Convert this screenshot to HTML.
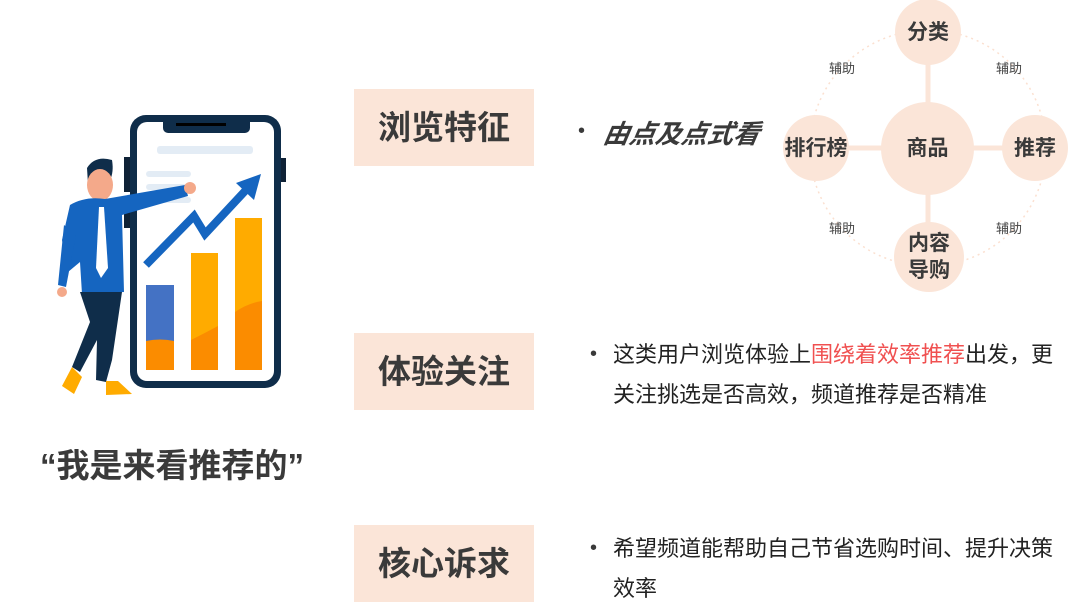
<!DOCTYPE html>
<html><head><meta charset="utf-8"><style>
body{margin:0;width:1080px;height:614px;background:#fff;position:relative;overflow:hidden;font-family:"Liberation Sans","Noto Sans CJK SC",sans-serif;color:#3a3a3a}
.box{position:absolute;left:354px;width:180px;height:77px;background:#fbe5d8;font-size:33px;font-weight:bold;text-align:center;line-height:77px;color:#3a3a3a}
.t{position:absolute;font-size:22px;line-height:40px;color:#222;white-space:nowrap}
.dot{position:absolute;font-size:20px}
.n{position:absolute;border-radius:50%;background:#fbe5d8;display:flex;align-items:center;justify-content:center;font-weight:bold;font-size:21px;color:#3a3a3a;text-align:center;line-height:27px}
.f{position:absolute;font-size:13px;color:#444}
</style></head><body>
<svg style="position:absolute;left:0;top:0" width="1080" height="614">
<rect x="124" y="157" width="8" height="35" fill="#0f2236"/>
<rect x="124" y="198" width="8" height="30" fill="#0f2236"/>
<rect x="278" y="158" width="8" height="24" fill="#0f2236"/>
<rect x="130" y="115" width="151" height="273" rx="16" fill="#0f2d4a"/>
<rect x="137" y="122" width="137" height="259" rx="10" fill="#fff"/>
<rect x="163" y="115" width="87" height="18" rx="5" fill="#0f2d4a"/>
<rect x="176" y="123" width="50" height="3" fill="#000"/>
<rect x="157" y="146" width="96" height="8" rx="3" fill="#e3ecf5"/>
<rect x="146" y="171" width="45" height="6" rx="3" fill="#e3ecf5"/>
<rect x="146" y="184" width="45" height="6" rx="3" fill="#e3ecf5"/>
<rect x="146" y="197" width="45" height="6" rx="3" fill="#e3ecf5"/>
<rect x="146" y="285" width="28" height="85" fill="#4472c4"/>
<path d="M146 341 Q160 338 174 341 V370 H146Z" fill="#fb8c00"/>
<rect x="191" y="253" width="27" height="117" fill="#ffab00"/>
<path d="M191 340 Q205 333 218 326 V370 H191Z" fill="#fb8c00"/>
<rect x="235" y="218" width="27" height="152" fill="#ffab00"/>
<path d="M235 312 Q248 303 262 301 V370 H235Z" fill="#fb8c00"/>
<polyline points="146,265 194,216 205,234 246,190" fill="none" stroke="#1565c0" stroke-width="8"/>
<polygon points="261,174 236,183 254,200" fill="#1565c0"/>
<!-- person -->
<path d="M87 168 Q95 155 112 160 Q114 172 110 180 L88 184Z" fill="#0f2d4a"/>
<ellipse cx="100" cy="185" rx="13" ry="16" fill="#f4a98a"/>
<path d="M70 205 Q85 196 105 199 L185 185 L188 196 L122 215 L124 292 L82 294 L80 262 L68 272 L62 240Z" fill="#1565c0"/>
<path d="M64 225 L58 285 L66 287 L76 235Z" fill="#1565c0"/>
<circle cx="62" cy="292" r="5" fill="#f4a98a"/>
<polygon points="99,207 104,207 108,268 101,278 96,268" fill="#fff"/>
<circle cx="190" cy="188" r="6" fill="#f4a98a"/>
<path d="M80 292 L122 292 L112 360 L106 382 L96 380 L97 340 L80 372 L72 367 L90 322Z" fill="#0f2d4a"/>
<path d="M72 367 L82 377 L74 394 L62 386Z" fill="#ffab00"/>
<path d="M106 381 L118 381 L132 394 L106 395Z" fill="#ffab00"/>
<circle cx="928" cy="148" r="118" fill="none" stroke="#fbe0d0" stroke-width="1.5" stroke-dasharray="2 4"/>
<line x1="928" y1="60" x2="928" y2="230" stroke="#fbe5d8" stroke-width="5"/>
<line x1="845" y1="148" x2="1010" y2="148" stroke="#fbe5d8" stroke-width="5"/>
</svg>
<div class="n" style="left:895px;top:-1px;width:66px;height:66px">分类</div>
<div class="n" style="left:881px;top:102px;width:93px;height:93px">商品</div>
<div class="n" style="left:783px;top:115px;width:66px;height:66px">排行榜</div>
<div class="n" style="left:1002px;top:115px;width:66px;height:66px">推荐</div>
<div class="n" style="left:894px;top:222px;width:70px;height:70px">内容<br>导购</div>
<div class="f" style="left:829px;top:58px">辅助</div>
<div class="f" style="left:996px;top:58px">辅助</div>
<div class="f" style="left:829px;top:218px">辅助</div>
<div class="f" style="left:996px;top:218px">辅助</div>

<div class="box" style="top:89px">浏览特征</div>
<div class="box" style="top:333px">体验关注</div>
<div class="box" style="top:525px">核心诉求</div>

<div class="dot" style="left:578px;top:120px">•</div>
<div style="position:absolute;left:604px;top:114px;font-size:26px;font-weight:bold;font-style:italic;color:#3a3a3a;transform:skewX(-10deg)">由点及点式看</div>

<div class="dot" style="left:590px;top:343px">•</div>
<div class="t" style="left:613px;top:335px">这类用户浏览体验上<span style="color:#f05050">围绕着效率推荐</span>出发，更<br>关注挑选是否高效，频道推荐是否精准</div>
<div class="dot" style="left:590px;top:537px">•</div>
<div class="t" style="left:613px;top:529px">希望频道能帮助自己节省选购时间、提升决策<br>效率</div>

<div style="position:absolute;left:40px;top:439px;font-size:33px;font-weight:bold;color:#3a3a3a">“我是来看推荐的”</div>
</body></html>
